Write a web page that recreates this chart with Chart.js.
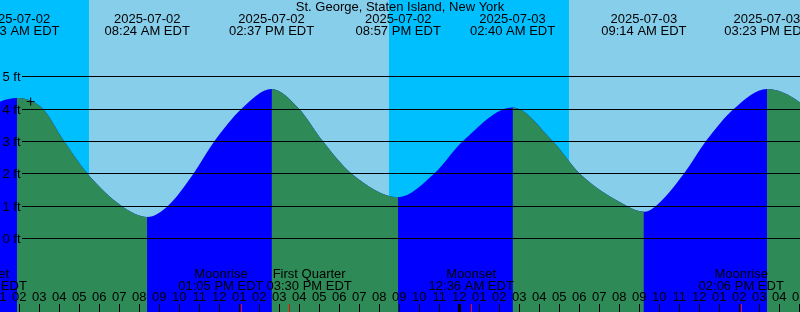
<!DOCTYPE html>
<html>
<head>
<meta charset="utf-8">
<script src="https://cdn.jsdelivr.net/npm/chart.js@4.4.1/dist/chart.umd.min.js"></script>
<style>
    html, body { margin: 0; padding: 0; background: #87ceeb; }
    #tide-chart { display: block; }
</style>
</head>
<body>
<canvas id="tide-chart" width="800" height="312"></canvas>
<script>
'use strict';

// hours counted from 2025-07-02 00:00 EDT
var stationName = 'St. George, Staten Island, New York';

// tide curve (feet)
var tideHours = [
    -4.5, 1.883, 3.175, 4.24, 5.405, 7.125, 8.4, 9.435, 10.72, 11.765, 13.12,
    14.617, 15.99, 17.175, 18.61, 20.95, 22.755, 24.19, 26.667, 28.67, 30.02,
    32.39, 33.233, 33.84, 35.24, 36.34, 37.74, 39.383, 45.6
];
var tideFeet = [
    0.9, 4.33, 4, 3, 2, 1, 0.66, 1, 2, 3, 4,
    4.61, 4, 3, 2, 1.27, 2, 3, 4.04, 3, 2,
    1, 0.82, 1, 2, 3, 4, 4.61, 1.2
];

// high / low water labels
var tideEventHours = [1.883, 8.4, 14.617, 20.95, 26.667, 33.233, 39.383];
var tideEventDates = [
    '2025-07-02', '2025-07-02', '2025-07-02', '2025-07-02',
    '2025-07-03', '2025-07-03', '2025-07-03'
];
var tideEventTimes = [
    '01:53 AM EDT', '08:24 AM EDT', '02:37 PM EDT', '08:57 PM EDT',
    '02:40 AM EDT', '09:14 AM EDT', '03:23 PM EDT'
];

// daylight
var sunsetHours = [-3.5, 20.48, 44.5];
var sunriseHours = [5.48, 29.48];

// moon events
var moonEventHours = [0.25, 13.083, 15.5, 24.6, 38.1];
var moonEventNames = ['Moonset', 'Moonrise', 'First Quarter', 'Moonset', 'Moonrise'];
var moonEventTimes = ['12:15 AM EDT', '01:05 PM EDT', '03:30 PM EDT', '12:36 AM EDT', '02:06 PM EDT'];

var heightTicks = [0, 1, 2, 3, 4, 5];

var markHours = [2.575];
var markFeet = [4.22];

var RISING = '#0000ff';
var FALLING = '#2e8b57';
var DAY = '#87ceeb';
var NIGHT = '#00bfff';
var FONT = '13px "Liberation Sans", Arial, sans-serif';

var tideChart;

var tidePlugin = {
    id: 'tideDecor',
    beforeDraw: function (chart) {
        var ctx = chart.ctx;
        var xs = chart.scales.x;
        ctx.save();
        ctx.fillStyle = DAY;
        ctx.fillRect(0, 0, chart.width, chart.height);
        ctx.fillStyle = NIGHT;
        for (var i = 0; i < sunriseHours.length; i++) {
            var x0 = Math.round(xs.getPixelForValue(sunsetHours[i]));
            var x1 = Math.round(xs.getPixelForValue(sunriseHours[i]));
            x0 = Math.max(x0, 0);
            ctx.fillRect(x0, 0, x1 - x0, chart.height);
        }
        ctx.restore();
    },
    afterDatasetsDraw: function (chart) {
        var ctx = chart.ctx;
        var ys = chart.scales.y;
        ctx.save();
        ctx.font = FONT;
        ctx.fillStyle = '#000';
        ctx.strokeStyle = '#000';
        ctx.lineWidth = 1;
        ctx.textAlign = 'left';
        ctx.textBaseline = 'alphabetic';
        heightTicks.forEach(function (v) {
            var y = Math.round(ys.getPixelForValue(v));
            ctx.beginPath();
            ctx.moveTo(22, y + 0.5);
            ctx.lineTo(chart.width, y + 0.5);
            ctx.stroke();
            ctx.fillText(v + ' ft', 2.5, y + 5);
        });
        ctx.restore();
    },
    afterDraw: function (chart) {
        var ctx = chart.ctx;
        var xs = chart.scales.x;
        ctx.save();
        ctx.font = FONT;
        ctx.fillStyle = '#000';
        ctx.textAlign = 'center';
        ctx.textBaseline = 'alphabetic';

        // title + tide labels
        ctx.fillText(stationName, chart.width / 2, 11);
        tideEventHours.forEach(function (h, i) {
            var x = xs.getPixelForValue(h);
            ctx.fillText(tideEventDates[i], x, 23);
            ctx.fillText(tideEventTimes[i], x, 35);
        });

        // hour ticks
        var first = Math.ceil(xs.min) - 1;
        var last = Math.floor(xs.max) + 1;
        for (var h = first; h <= last; h++) {
            var px = xs.getPixelForValue(h);
            var hr = ((h % 12) + 12) % 12 || 12;
            ctx.fillStyle = '#000';
            ctx.fillText(String(hr).padStart(2, '0'), px, 301);
            if (h % 24 === 0) {
                ctx.fillRect(Math.round(px) - 1, 304, 3, 8);
            } else {
                ctx.fillRect(Math.round(px), 304, 1, 8);
            }
        }

        // moon events, pushed apart where they collide
        var centers = moonEventHours.map(function (m) { return xs.getPixelForValue(m); });
        var widths = moonEventNames.map(function (n, i) {
            return Math.max(ctx.measureText(n).width, ctx.measureText(moonEventTimes[i]).width);
        });
        for (var i = 0; i < centers.length - 1; i++) {
            var overlap = (centers[i] + widths[i] / 2 + 3) - (centers[i + 1] - widths[i + 1] / 2);
            if (overlap > 0) {
                centers[i] -= overlap / 2;
                centers[i + 1] += overlap / 2;
            }
        }
        moonEventHours.forEach(function (m, i) {
            ctx.fillStyle = '#ff0000';
            ctx.fillRect(Math.round(xs.getPixelForValue(m)), 304, 1, 8);
            ctx.fillStyle = '#000';
            ctx.fillText(moonEventNames[i], centers[i], 278);
            ctx.fillText(moonEventTimes[i], centers[i], 289.5);
        });
        ctx.restore();
    }
};

function tidePoints() {
    return tideHours.map(function (h, i) { return { x: h, y: tideFeet[i] }; });
}

function loadTideChart() {
    if (tideChart) {
        tideChart.destroy();
    }

    tideChart = new Chart(document.getElementById('tide-chart'), {
        type: 'line',
        data: {
            datasets: [
                {
                    type: 'scatter',
                    data: markHours.map(function (h, i) { return { x: h, y: markFeet[i] }; }),
                    pointStyle: 'cross',
                    pointRadius: 4,
                    borderColor: '#000',
                    borderWidth: 1,
                    order: 0,
                },
                // falling water on top, rising parts left see-through
                {
                    data: tidePoints(),
                    cubicInterpolationMode: 'monotone',
                    fill: 'start',
                    backgroundColor: FALLING,
                    borderColor: 'rgba(0,0,0,0)',
                    borderWidth: 0,
                    pointRadius: 0,
                    segment: {
                        backgroundColor: function (c) {
                            return c.p1.parsed.y > c.p0.parsed.y ? 'rgba(0,0,0,0)' : FALLING;
                        },
                    },
                    order: 1,
                },
                // rising water underneath everything
                {
                    data: tidePoints(),
                    cubicInterpolationMode: 'monotone',
                    fill: 'start',
                    backgroundColor: RISING,
                    borderColor: 'rgba(0,0,0,0)',
                    borderWidth: 0,
                    pointRadius: 0,
                    order: 2,
                },
            ],
        },
        options: {
            responsive: false,
            animation: false,
            layout: { padding: 0, autoPadding: false },
            events: [],
            scales: {
                x: { type: 'linear', min: 1.04, max: 41.04, display: false },
                y: { min: -2.275, max: 7.355, display: false },
            },
            plugins: {
                legend: { display: false },
                tooltip: { enabled: false },
            },
        },
        plugins: [tidePlugin],
    });
}

loadTideChart();
</script>
</body>
</html>
